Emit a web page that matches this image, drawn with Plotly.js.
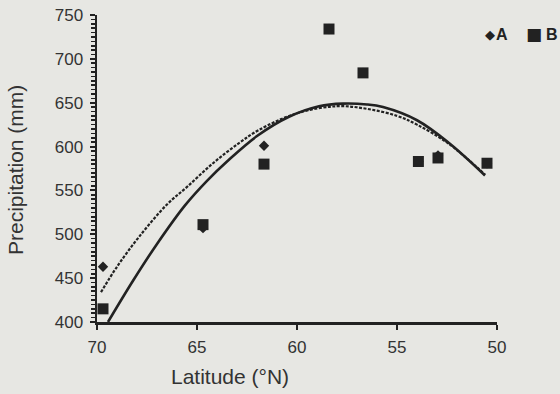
<!DOCTYPE html>
<html>
<head>
<meta charset="utf-8">
<script src="https://cdn.plot.ly/plotly-3.0.1.min.js"></script>
<style>
html,body{margin:0;padding:0;background:#e7e7e3;}
#chart{width:560px;height:394px;}
</style>
</head>
<body>
<div id="chart"></div>
<script>
// Observed data (latitude °N, precipitation mm)
var latitudes = [69.7, 64.7, 61.65, 58.4, 56.7, 53.93, 52.95, 50.5];
var seriesA   = [463, 507, 601, 734, 684, 583, 590, 581];
var seriesB   = [415, 511, 580, 734, 684, 583, 587, 581];

// Fitted curves
var fitLatA = [69.8, 69.0, 67.9, 66.5, 65.5, 64.2, 62.9, 61.9, 60.0, 58.0, 56.5, 55.0, 54.0, 52.4, 50.6];
var fitA    = [434, 463, 497, 534, 554, 581, 604, 619, 638, 646, 643, 635, 625, 603, 568];
var fitLatB = [69.45, 68.2, 67.0, 65.6, 64.5, 63.5, 62.0, 60.4, 58.9, 57.7, 56.5, 55.7, 54.0, 52.4, 50.6];
var fitB    = [400, 447, 489, 533, 561, 583, 612, 634, 646, 649, 648, 645, 630, 604, 567];

var seriesNames = ['A', 'B'];

var ink = '#222222';
var font = 'Liberation Sans';

var traces = [
  {x: fitLatA, y: fitA, mode: 'lines', line: {color: ink, width: 2.2, dash: '3px,1.5px', shape: 'spline'}, hoverinfo: 'skip'},
  {x: fitLatB, y: fitB, mode: 'lines', line: {color: ink, width: 2.6, shape: 'spline'}, hoverinfo: 'skip'},
  {x: latitudes, y: seriesA, mode: 'markers', name: seriesNames[0], marker: {symbol: 'diamond', size: 8, color: ink}, cliponaxis: false},
  {x: latitudes, y: seriesB, mode: 'markers', name: seriesNames[1], marker: {symbol: 'square', size: 11, color: ink}, cliponaxis: false}
];

var layout = {
  width: 560, height: 394,
  margin: {l: 97, r: 63, t: 15, b: 72, pad: 0},
  paper_bgcolor: '#e7e7e3',
  plot_bgcolor: '#e7e7e3',
  font: {family: font, color: '#333', size: 17},
  showlegend: false,
  xaxis: {
    range: [70, 50], tickmode: 'linear', tick0: 50, dtick: 5,
    showline: true, linecolor: ink, linewidth: 2.5,
    ticks: 'outside', ticklen: 5, tickwidth: 2, tickcolor: ink,
    ticklabelstandoff: 3,
    showgrid: false, zeroline: false,
    tickfont: {family: font, size: 17, color: '#333'}
  },
  yaxis: {
    range: [400, 750], tickmode: 'linear', tick0: 400, dtick: 50,
    showline: true, linecolor: ink, linewidth: 2.5,
    ticks: 'outside', ticklen: 5, tickwidth: 2, tickcolor: ink,
    minor: {dtick: 5, ticks: 'outside', ticklen: 3.5, tickwidth: 1.6, tickcolor: ink},
    ticklabelstandoff: 3,
    showgrid: false, zeroline: false,
    tickfont: {family: font, size: 17, color: '#333'}
  },
  annotations: [
    {text: 'Latitude (°N)', xref: 'paper', yref: 'paper', x: 0.3325, y: -0.176, xanchor: 'center', yanchor: 'middle', showarrow: false, font: {family: font, size: 21, color: '#333'}},
    {text: 'Precipitation (mm)', xref: 'paper', yref: 'paper', x: -0.205, y: 0.495, xanchor: 'center', yanchor: 'middle', textangle: -90, showarrow: false, font: {family: font, size: 21, color: '#333'}},
    {text: '◆', xref: 'paper', yref: 'paper', x: 0.9825, y: 0.938, xanchor: 'center', yanchor: 'middle', showarrow: false, font: {family: 'DejaVu Sans', size: 13, color: ink}},
    {text: '<b>' + seriesNames[0] + '</b>', xref: 'paper', yref: 'paper', x: 1.0125, y: 0.938, xanchor: 'center', yanchor: 'middle', showarrow: false, font: {family: font, size: 16, color: ink}},
    {text: '■', xref: 'paper', yref: 'paper', x: 1.0925, y: 0.938, xanchor: 'center', yanchor: 'middle', showarrow: false, font: {family: 'DejaVu Sans', size: 17, color: ink}},
    {text: '<b>' + seriesNames[1] + '</b>', xref: 'paper', yref: 'paper', x: 1.1375, y: 0.938, xanchor: 'center', yanchor: 'middle', showarrow: false, font: {family: font, size: 16, color: ink}}
  ]
};

Plotly.newPlot('chart', traces, layout, {displayModeBar: false, staticPlot: true});
</script>
</body>
</html>
